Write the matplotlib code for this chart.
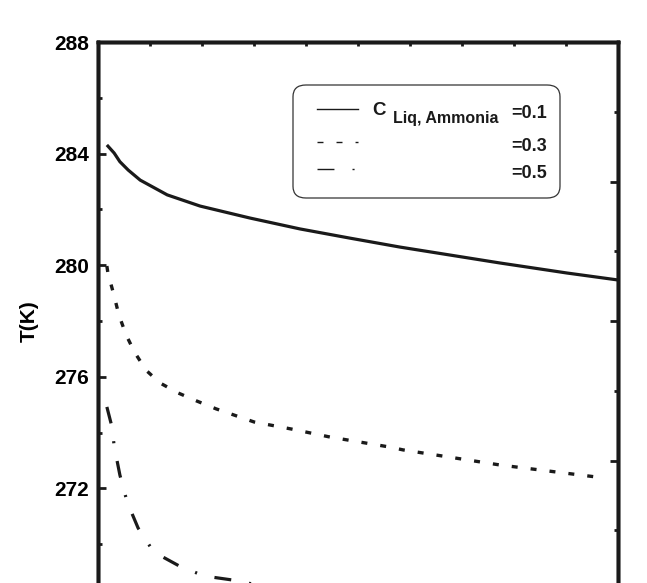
import numpy as np
import matplotlib.pyplot as plt
from matplotlib.lines import Line2D
from matplotlib.patches import FancyBboxPatch
from matplotlib.ticker import MultipleLocator, NullFormatter

plt.rcParams['font.family'] = ['Liberation Sans', 'DejaVu Sans']
plt.rcParams['font.weight'] = 'bold'
plt.rcParams['lines.scale_dashes'] = False

# curves (x in arbitrary axis units 0..10)
x_01 = [0.18, 0.32, 0.43, 0.59, 0.82, 1.34, 1.97, 2.93, 3.89, 4.85, 5.81,
        7.73, 9.02, 10.0]
T_01 = [284.31, 284.02, 283.71, 283.41, 283.05, 282.52, 282.12, 281.69,
        281.30, 280.97, 280.65, 280.08, 279.72, 279.47]

x_03 = [0.18, 0.20, 0.32, 0.41, 0.55, 0.71, 0.93, 1.20, 1.55, 1.91, 2.28,
        3.01, 3.72, 4.47, 5.62, 5.87, 7.73, 9.75]
T_03 = [279.97, 279.72, 278.90, 278.22, 277.50, 276.89, 276.24, 275.78,
        275.42, 275.13, 274.85, 274.38, 274.13, 273.84, 273.48, 273.38,
        272.84, 272.37]

x_05 = [0.18, 0.28, 0.32, 0.43, 0.57, 0.78, 1.08, 1.57, 2.05, 2.58, 4.0,
        6.0, 8.0, 10.0]
T_05 = [274.92, 274.19, 273.52, 272.48, 271.51, 270.58, 269.72, 269.22,
        268.86, 268.72, 268.2, 267.8, 267.5, 267.2]

values = ['=0.1', '=0.3', '=0.5']
y_ticks = [272, 276, 280, 284, 288]

W, H = 647, 583
fig = plt.figure(figsize=(W / 100, H / 100), dpi=100)

# axes run below the bottom edge of the figure (picture is cropped)
left, top, right = 97.5, 42, 618
ax_h = 24 * 27.9
ax = fig.add_axes([left / W, 1 - (top + ax_h) / H, (right - left) / W, ax_h / H])

dot_style = (0, (4.3, 9.4))
dashdot_style = (0, (12.2, 13, 1.5, 13))
ax.plot(x_01, T_01, color='#1a1a1a', lw=2.3, solid_capstyle='butt')
ax.plot(x_03, T_03, color='#1a1a1a', lw=2.4, linestyle=dot_style)
ax.plot(x_05, T_05, color='#1a1a1a', lw=2.3, linestyle=dashdot_style)

ax.set_xlim(0, 10)
ax.set_ylim(264, 288)
ax.set_yticks(y_ticks)
ax.yaxis.set_minor_locator(MultipleLocator(2))
ax.tick_params(axis='y', which='major', direction='in', length=6, width=2,
               labelsize=15, pad=6, color='#1a1a1a')
ax.tick_params(axis='y', which='minor', direction='in', length=3, width=2,
               color='#1a1a1a')
ax.tick_params(axis='x', which='both', bottom=False, labelbottom=False)
for sp in ax.spines.values():
    sp.set_linewidth(2.5)
    sp.set_color('#1a1a1a')
ax.set_ylabel('T(K)', fontsize=15, fontweight='bold')
ax.yaxis.set_label_coords(-0.112, 0.583)

# top axis: small inward ticks, no labels
axt = ax.twiny()
axt.set_xlim(0, 10)
axt.xaxis.set_major_locator(MultipleLocator(1))
axt.tick_params(axis='x', direction='in', length=3, width=2, labeltop=False,
                color='#1a1a1a')

# right axis: another scale, ticks only
axr = ax.twinx()
axr.set_ylim(10 - ax_h / 69.75, 10)
axr.yaxis.set_major_locator(MultipleLocator(2))
axr.yaxis.set_minor_locator(MultipleLocator(1))
axr.yaxis.set_major_formatter(NullFormatter())
axr.tick_params(axis='y', which='major', direction='in', length=6, width=2,
                color='#1a1a1a')
axr.tick_params(axis='y', which='minor', direction='in', length=3, width=2,
                color='#1a1a1a')
for a in (axt, axr):
    for sp in a.spines.values():
        sp.set_linewidth(2.5)
        sp.set_color('#1a1a1a')

# legend box drawn in figure pixels
def fx(px):
    return px / W


def fy(py):
    return 1 - py / H


box = FancyBboxPatch((fx(293), fy(198)), fx(560) - fx(293), fy(85) - fy(198),
                     boxstyle='round,pad=0,rounding_size=0.02',
                     transform=fig.transFigure, facecolor='white',
                     edgecolor='#333333', lw=0.9, zorder=5)
fig.add_artist(box)

styles = ['-', dot_style, dashdot_style]
rows = [109, 142, 169]
for st, py, val in zip(styles, rows, values):
    ln = Line2D([fx(317), fx(358)], [fy(py), fy(py)], transform=fig.transFigure,
                color='#1a1a1a', lw=1.0, linestyle=st, zorder=6)
    fig.add_artist(ln)
    fig.text(fx(547), fy(py + 9), val, fontsize=13, fontweight='bold',
             ha='right', va='baseline', color='#1a1a1a', zorder=6)

fig.text(fx(372), fy(115), 'C', fontsize=13.5, fontweight='bold',
         ha='left', va='baseline', color='#1a1a1a', zorder=6)
fig.text(fx(393), fy(123), 'Liq, Ammonia', fontsize=11.5, fontweight='bold',
         ha='left', va='baseline', color='#1a1a1a', zorder=6)

fig.savefig('out.png', dpi=100)
